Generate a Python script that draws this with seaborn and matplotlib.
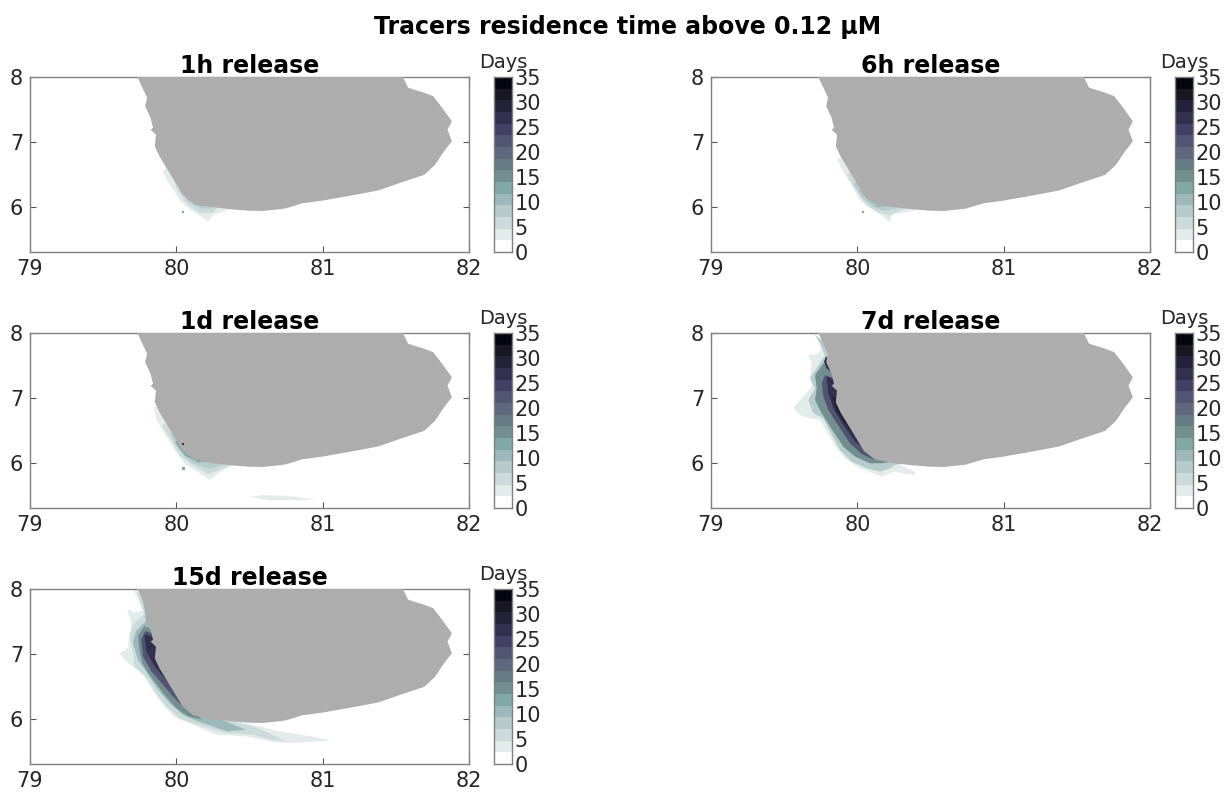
import numpy as np
import matplotlib
matplotlib.use("Agg")
import matplotlib.pyplot as plt
from matplotlib.colors import ListedColormap, BoundaryNorm
import seaborn as sns

SUPTITLE = "Tracers residence time above 0.12 µM"
X_TICKS = [79, 80, 81, 82]
Y_TICKS = [6, 7, 8]
CBAR_TICKS = [0, 5, 10, 15, 20, 25, 30, 35]
DAY_COLORS = ["#FFFFFF", "#E3EBEB", "#CBDADA", "#B5CBCC", "#9DB8BA", "#82A8A5", "#728F8F",
              "#657B85", "#5E677D", "#535473", "#423F66", "#332F4E", "#24223A", "#191722", "#05050F"]

LAND_LON = [79.733, 79.763, 79.800, 79.787, 79.824, 79.841, 79.824, 79.861, 79.853, 79.885, 79.934, 79.983,
            80.044, 80.117, 80.227, 80.374, 80.496, 80.594, 80.741, 80.863, 80.985, 81.181, 81.377, 81.523,
            81.694, 81.768, 81.829, 81.883, 81.853, 81.883, 81.817, 81.755, 81.694, 81.584, 81.548]
LAND_LAT = [8.000, 7.860, 7.680, 7.550, 7.370, 7.214, 7.189, 7.111, 6.930, 6.775, 6.594, 6.413,
            6.181, 6.052, 6.000, 5.959, 5.938, 5.933, 5.969, 6.052, 6.088, 6.165, 6.248, 6.362,
            6.491, 6.646, 6.853, 7.008, 7.189, 7.318, 7.525, 7.705, 7.757, 7.835, 8.000]
INLAND_LON = [80.5, 80.3]
INLAND_LAT = [6.1, 6.9]

# (days, lons, lats) outlines of the plume bands
H1 = [
    (3.5, [79.934, 79.905, 79.934, 79.983, 80.020, 80.081, 80.154, 80.215, 80.252, 80.350, 80.374],
          [6.594, 6.543, 6.413, 6.258, 6.103, 5.974, 5.871, 5.767, 5.871, 5.948, 5.974]),
    (5.8, [79.983, 80.008, 80.068, 80.154, 80.252, 80.276], [6.413, 6.258, 6.052, 5.907, 5.907, 5.974]),
    (8.2, [80.020, 80.081, 80.178, 80.227], [6.284, 6.078, 5.974, 5.974]),
    (10.5, [80.056, 80.130, 80.178], [6.155, 6.026, 6.010]),
]
H6 = [
    (3.5, [79.859, 79.904, 79.962, 80.018, 80.098, 80.167, 80.224, 80.235, 80.338, 80.394],
          [6.739, 6.532, 6.326, 6.093, 5.964, 5.860, 5.757, 5.886, 5.912, 5.948]),
    (5.8, [79.927, 79.984, 80.064, 80.144, 80.224, 80.292], [6.507, 6.274, 6.016, 5.912, 5.860, 5.938]),
    (8.2, [79.973, 80.030, 80.109, 80.189], [6.352, 6.144, 5.989, 5.938]),
    (10.5, [80.018, 80.075, 80.144], [6.248, 6.093, 5.989]),
]
D1 = [
    (3.5, [79.843, 79.866, 79.934, 79.991, 80.059, 80.116, 80.185, 80.230, 80.276, 80.356],
          [6.858, 6.651, 6.393, 6.186, 5.979, 5.902, 5.798, 5.731, 5.824, 5.928]),
    (5.8, [79.900, 79.968, 80.025, 80.116, 80.219, 80.310], [6.574, 6.341, 6.109, 5.953, 5.824, 5.902]),
    (8.2, [79.957, 80.014, 80.094, 80.230], [6.445, 6.212, 6.005, 5.902]),
    (12.8, [79.991, 80.059, 80.150], [6.315, 6.109, 6.005]),
]
D1_PATCH_LON = [80.499, 80.595, 80.755, 80.955, 80.823, 80.640]
D1_PATCH_LAT = [5.473, 5.499, 5.488, 5.432, 5.421, 5.421]
D7 = [
    (3.5, [79.699, 79.733, 79.756, 79.711, 79.665, 79.688, 79.677, 79.688, 79.631, 79.563, 79.608, 79.677, 79.745,
           79.802, 79.859, 79.927, 80.018, 80.109, 80.166, 80.246, 80.394, 80.394, 80.292],
          [7.995, 7.892, 7.738, 7.661, 7.661, 7.532, 7.352, 7.172, 7.018, 6.853, 6.735, 6.684, 6.658,
           6.427, 6.221, 6.041, 5.913, 5.835, 5.784, 5.861, 5.810, 5.861, 5.964]),
    (8.2, [79.711, 79.745, 79.779, 79.722, 79.677, 79.711, 79.665, 79.699, 79.768, 79.825, 79.882, 79.961,
           80.064, 80.155, 80.223, 80.257],
          [7.969, 7.841, 7.661, 7.455, 7.301, 7.147, 6.967, 6.761, 6.684, 6.427, 6.195, 6.015,
           5.913, 5.861, 5.913, 5.964]),
    (15.2, [79.768, 79.711, 79.722, 79.711, 79.756, 79.836, 79.904, 79.984, 80.087, 80.166],
           [7.532, 7.352, 7.147, 6.967, 6.761, 6.478, 6.247, 6.093, 5.990, 5.990]),
    (22.2, [79.779, 79.756, 79.768, 79.802, 79.882, 79.950, 80.030, 80.121, 80.132],
           [7.352, 7.224, 7.018, 6.812, 6.530, 6.298, 6.134, 6.041, 6.093]),
    (26.8, [79.790, 79.802, 79.836, 79.904, 79.984, 80.052, 80.109],
           [7.326, 7.069, 6.838, 6.581, 6.324, 6.195, 6.118]),
    (29.2, [79.825, 79.859, 79.927, 79.995, 80.041], [7.018, 6.787, 6.581, 6.375, 6.272]),
    (26.8, [79.786, 79.772, 79.790], [7.635, 7.558, 7.455]),
]
D15 = [
    (3.5, [79.703, 79.748, 79.771, 79.714, 79.664, 79.692, 79.676, 79.669, 79.612, 79.680, 79.771, 79.839, 79.907,
           79.998, 80.111, 80.270, 80.474, 80.678, 80.814, 81.052, 80.927, 80.701, 80.519, 80.383, 80.270, 80.202],
          [8.000, 7.793, 7.664, 7.638, 7.690, 7.483, 7.225, 7.096, 7.003, 6.837, 6.682, 6.424, 6.217,
           6.010, 5.907, 5.752, 5.726, 5.633, 5.623, 5.664, 5.726, 5.804, 5.907, 5.974, 6.036, 6.062]),
    (5.8, [79.726, 79.760, 79.782, 79.714, 79.680, 79.703, 79.714, 79.805, 79.862, 79.930, 80.020, 80.134, 80.338,
           80.519, 80.655, 80.746, 80.633, 80.519, 80.383, 80.293],
          [7.974, 7.767, 7.612, 7.483, 7.276, 7.018, 6.811, 6.605, 6.398, 6.191, 6.010, 5.907, 5.778,
           5.752, 5.674, 5.649, 5.778, 5.881, 5.959, 6.010]),
    (10.5, [79.760, 79.782, 79.794, 79.726, 79.703, 79.737, 79.805, 79.884, 79.952, 80.043, 80.145, 80.349, 80.474,
            80.338, 80.224],
           [7.948, 7.690, 7.509, 7.354, 7.173, 6.915, 6.682, 6.424, 6.243, 6.062, 5.959, 5.804, 5.829,
            5.959, 6.036]),
    (15.2, [79.782, 79.737, 79.748, 79.771, 79.839, 79.918, 79.998, 80.077, 80.179, 80.134],
           [7.432, 7.276, 7.044, 6.837, 6.605, 6.372, 6.165, 6.036, 5.984, 6.062]),
    (22.2, [79.789, 79.760, 79.771, 79.828, 79.907, 79.986, 80.054, 80.122],
           [7.354, 7.225, 6.966, 6.734, 6.527, 6.320, 6.165, 6.088]),
    (26.8, [79.782, 79.794, 79.850, 79.918, 79.998, 80.043], [7.302, 7.044, 6.811, 6.630, 6.424, 6.269]),
]
PANEL_TITLES = ["1h release", "6h release", "1d release", "7d release", "15d release"]
PANEL_BANDS = [H1, H6, D1, D7, D15]
SPECK_LON = [[80.044], [80.041], [80.044, 80.048], [], []]
SPECK_LAT = [[5.917], [5.912], [6.289, 5.907], [], []]
SPECK_DAYS = [[12.8], [12.8], [26.8, 12.8], [], []]

sns.set_theme(style="white", rc={"font.family": "DejaVu Sans"})
W, H = 1227, 792
fig = plt.figure(figsize=(W / 100, H / 100), dpi=100, facecolor="white")
fig.text(628 / W, 1 - 27 / H, SUPTITLE, ha="center", va="center", fontsize=17, fontweight="bold", color="black")

cmap = ListedColormap(sns.color_palette(DAY_COLORS))
bounds = np.linspace(CBAR_TICKS[0], CBAR_TICKS[-1], len(DAY_COLORS) + 1)
norm = BoundaryNorm(bounds, cmap.N)
mids = (bounds[:-1] + bounds[1:]) / 2
GRID = [(30, 77), (711, 77), (30, 333), (711, 333), (30, 589)]
AW, AH = 439, 175
EDGE = "#808080"
TXT = "#262626"

for i, (title, bands) in enumerate(zip(PANEL_TITLES, PANEL_BANDS)):
    x0, y0 = GRID[i]
    ax = fig.add_axes([x0 / W, 1 - (y0 + AH) / H, AW / W, AH / H])
    for days, lon, lat in bands:
        ax.fill(lon + INLAND_LON, lat + INLAND_LAT, color=cmap(norm(days)), lw=0, zorder=2)
    if title.startswith("1d"):
        ax.fill(D1_PATCH_LON, D1_PATCH_LAT, color=cmap(norm(3.5)), lw=0, zorder=2)
    ax.scatter(SPECK_LON[i], SPECK_LAT[i], c=[cmap(norm(d)) for d in SPECK_DAYS[i]] or None,
               s=3, marker="s", lw=0, zorder=4)
    ax.fill(LAND_LON, LAND_LAT, color="#ADADAD", lw=0, zorder=3)
    ax.set_xlim(X_TICKS[0], X_TICKS[-1])
    ax.set_ylim(5.3, 8)
    ax.set_xticks(X_TICKS)
    ax.set_yticks(Y_TICKS)
    ax.tick_params(axis="both", which="major", direction="in", length=4.5, width=0.8, color="#555555",
                   labelsize=15, labelcolor=TXT, top=True, right=True, bottom=True, left=True, pad=5)
    for s in ax.spines.values():
        s.set_color(EDGE)
        s.set_linewidth(1.0)
    ax.set_title(title, fontsize=17, fontweight="bold", color="black", pad=3)

    cax = fig.add_axes([(x0 + 464) / W, 1 - (y0 + AH) / H, 18 / W, AH / H])
    sns.heatmap(mids.reshape(-1, 1), ax=cax, cmap=cmap, norm=norm, cbar=False, xticklabels=False, yticklabels=False)
    cax.set_ylim(0, len(mids))
    cax.set_yticks([t / CBAR_TICKS[-1] * len(mids) for t in CBAR_TICKS])
    cax.set_yticklabels([str(t) for t in CBAR_TICKS], rotation=0)
    cax.yaxis.tick_right()
    cax.tick_params(axis="y", direction="in", length=2, width=0.7, color="#555555", labelsize=15,
                    labelcolor=TXT, pad=2, right=True, left=False)
    for s in cax.spines.values():
        s.set_visible(True)
        s.set_color(EDGE)
        s.set_linewidth(1.0)
    cax.text(0.5, 1.03, "Days", transform=cax.transAxes, ha="center", va="bottom", fontsize=14, color=TXT)

fig.savefig("out.png", dpi=100, facecolor="white")
